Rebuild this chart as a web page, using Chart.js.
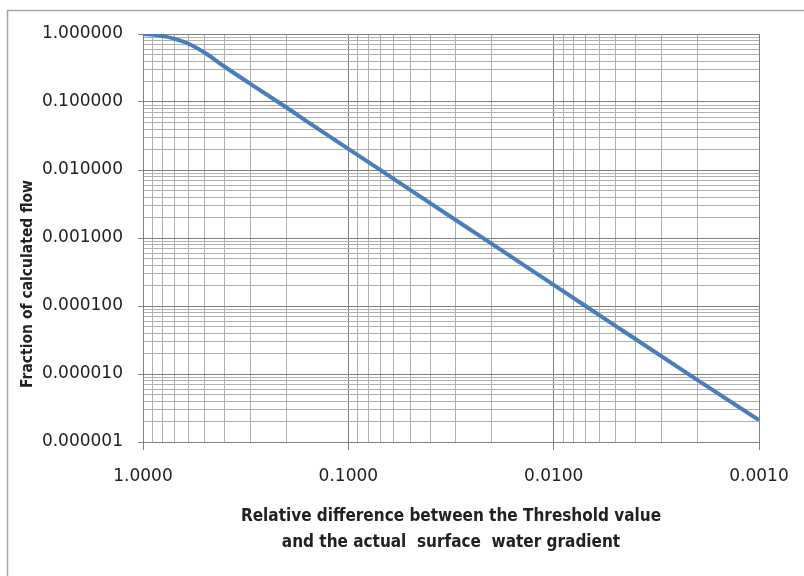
<!DOCTYPE html>
<html>
<head>
<meta charset="utf-8">
<script src="https://cdn.jsdelivr.net/npm/chart.js@4.4.1/dist/chart.umd.min.js"></script>
<style>
  html, body { margin: 0; padding: 0; background: #ffffff; }
  #wrap { position: relative; width: 804px; height: 576px; }
</style>
</head>
<body>
<div id="wrap"><canvas id="c" width="804" height="576"></canvas></div>
<script>
// ---- Data ----
const relativeDifference = [1.0, 0.9, 0.8, 0.7, 0.6, 0.5, 0.4, 0.3, 0.2, 0.15, 0.1, 0.05, 0.02, 0.01, 0.005, 0.002, 0.001];
const fractionOfFlow     = [1.0, 0.98, 0.93, 0.85, 0.72, 0.53, 0.33, 0.185, 0.083, 0.046, 0.0205, 0.0051, 0.00082, 0.000205, 0.000051, 0.0000082, 0.0000021];

// ---- Axis ticks ----
const xDecades = [1, 0.1, 0.01, 0.001];
const xTickLabels = ['1.0000', '0.1000', '0.0100', '0.0010'];
const yDecades = [1, 0.1, 0.01, 0.001, 0.0001, 0.00001, 0.000001];
const yTickLabels = ['1.000000', '0.100000', '0.010000', '0.001000', '0.000100', '0.000010', '0.000001'];
const minorSteps = [1, 2, 3, 4, 5, 6, 7, 8, 9];

const xTitle = ['Relative difference between the Threshold value', 'and the actual  surface  water gradient'];
const yTitle = 'Fraction of calculated flow';

function isMajor(v) {
  const l = Math.log10(v);
  return Math.abs(l - Math.round(l)) < 1e-6;
}
function logTickValues(decades) {
  const sorted = decades.slice().sort((a, b) => a - b);
  const vals = [];
  for (let i = 0; i < sorted.length - 1; i++) {
    minorSteps.forEach(m => vals.push(sorted[i] * m));
  }
  vals.push(sorted[sorted.length - 1]);
  return vals;
}
function labelFor(value, decades, labels) {
  for (let i = 0; i < decades.length; i++) {
    if (Math.abs(Math.log10(value) - Math.log10(decades[i])) < 1e-6) return labels[i];
  }
  return '';
}

const MAJOR = '#808080';
const MINOR = '#b0b0b0';
const TEXT = '#222222';

const points = relativeDifference.map((x, i) => ({ x: x, y: fractionOfFlow[i] }));

const framePlugin = {
  id: 'frameAndYTitle',
  beforeDraw(chart) {
    const ctx = chart.ctx;
    ctx.save();
    ctx.fillStyle = '#ffffff';
    ctx.fillRect(0, 0, chart.width, chart.height);
    ctx.strokeStyle = '#a6a6a6';
    ctx.lineWidth = 1.5;
    ctx.beginPath();
    ctx.moveTo(7.5, chart.height);
    ctx.lineTo(7.5, 10.5);
    ctx.lineTo(chart.width, 10.5);
    ctx.stroke();
    ctx.restore();
  },
  afterDraw(chart) {
    const ctx = chart.ctx;
    ctx.save();
    ctx.translate(28, 284);
    ctx.rotate(-Math.PI / 2);
    ctx.font = 'bold 15.5px "Liberation Sans Narrow", "DejaVu Sans Condensed", sans-serif';
    ctx.fillStyle = TEXT;
    ctx.textAlign = 'center';
    ctx.textBaseline = 'middle';
    ctx.fillText(yTitle, 0, 0);
    ctx.restore();
  }
};

new Chart(document.getElementById('c'), {
  type: 'line',
  data: {
    datasets: [{
      data: points,
      borderColor: '#4a7ebb',
      borderWidth: 4,
      pointRadius: 0,
      fill: false,
      cubicInterpolationMode: 'monotone'
    }]
  },
  options: {
    responsive: false,
    animation: false,
    events: [],
    layout: { padding: { top: 34, right: 45, bottom: 0, left: 0 } },
    plugins: { legend: { display: false }, tooltip: { enabled: false } },
    scales: {
      x: {
        type: 'logarithmic',
        reverse: true,
        min: 0.001,
        max: 1,
        afterBuildTicks(scale) { scale.ticks = logTickValues(xDecades).map(v => ({ value: v, major: isMajor(v) })); },
        afterFit(scale) { scale.height = 134; },
        grid: {
          color: c => (c.tick && isMajor(c.tick.value)) ? MAJOR : MINOR,
          tickColor: c => (c.tick && isMajor(c.tick.value)) ? MAJOR : 'rgba(0,0,0,0)',
          lineWidth: 1,
          tickLength: 8
        },
        border: { color: MAJOR, width: 1 },
        ticks: {
          autoSkip: false,
          maxRotation: 0,
          minRotation: 0,
          padding: 16,
          color: TEXT,
          font: { family: '"DejaVu Sans", Verdana, sans-serif', size: 17 },
          callback: (value) => labelFor(value, xDecades, xTickLabels)
        },
        title: {
          display: true,
          text: xTitle,
          color: TEXT,
          font: { family: '"Liberation Sans Narrow", "DejaVu Sans Condensed", sans-serif', size: 17, weight: 'bold', lineHeight: '26px' },
          padding: { top: 0, bottom: 20 }
        }
      },
      y: {
        type: 'logarithmic',
        min: 0.000001,
        max: 1,
        afterBuildTicks(scale) { scale.ticks = logTickValues(yDecades).map(v => ({ value: v, major: isMajor(v) })); },
        afterFit(scale) { scale.width = 143; },
        grid: {
          color: c => (c.tick && isMajor(c.tick.value)) ? MAJOR : MINOR,
          tickColor: c => (c.tick && isMajor(c.tick.value)) ? MAJOR : 'rgba(0,0,0,0)',
          lineWidth: 1,
          tickLength: 5
        },
        border: { color: MAJOR, width: 1 },
        ticks: {
          autoSkip: false,
          padding: 15,
          color: TEXT,
          font: { family: '"DejaVu Sans", Verdana, sans-serif', size: 17 },
          callback: (value) => labelFor(value, yDecades, yTickLabels)
        },
        title: { display: false }
      }
    }
  },
  plugins: [framePlugin]
});
</script>
</body>
</html>
